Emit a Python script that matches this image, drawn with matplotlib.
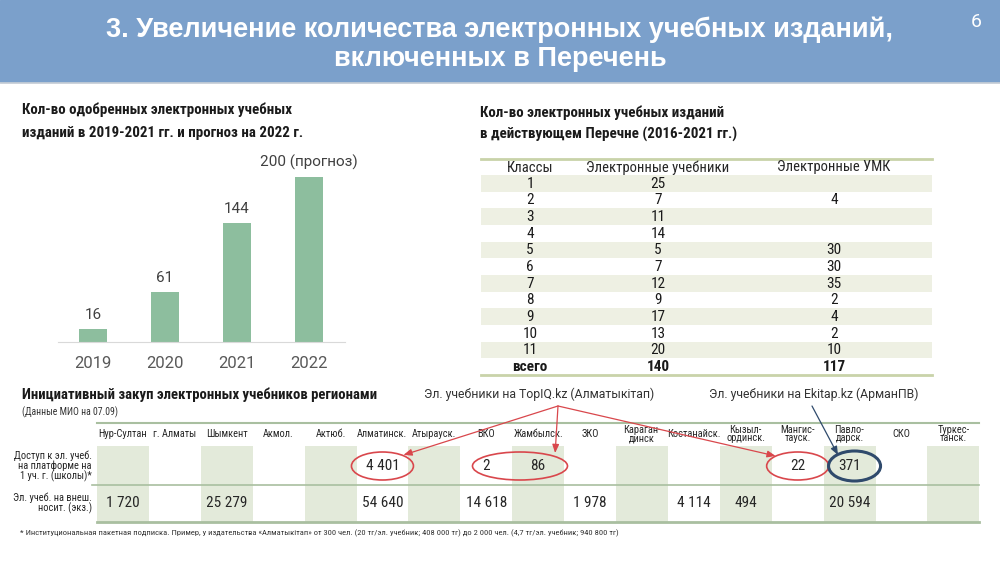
import matplotlib
matplotlib.use('Agg')
import matplotlib.pyplot as plt
from matplotlib.patches import Rectangle, Ellipse

# ---------------- data ----------------
years = ['2019', '2020', '2021', '2022']
approved = [16, 61, 144, 200]
approved_labels = ['16', '61', '144', '200 (прогноз)']

grades = ['1', '2', '3', '4', '5', '6', '7', '8', '9', '10', '11']
e_textbooks = [25, 7, 11, 14, 5, 7, 12, 9, 17, 13, 20]
e_umk = [None, 4, None, None, 30, 30, 35, 2, 4, 2, 10]
total_label = 'всего'
total_textbooks = 140
total_umk = 117
table_header = ['Классы', 'Электронные учебники', 'Электронные УМК']

regions = ['Нур-Султан', 'г. Алматы', 'Шымкент', 'Акмол.', 'Актюб.', 'Алматинск.',
           'Атырауск.', 'ВКО', 'Жамбылск.', 'ЗКО', 'Караган-\nдинск', 'Костанайск.',
           'Кызыл-\nординск.', 'Мангис-\nтауск.', 'Павло-\nдарск.', 'СКО', 'Туркес-\nтанск.']
platform_access = [None, None, None, None, None, 4401, None, 2, 86, None, None, None,
                   None, 22, 371, None, None]
external_media = [1720, None, 25279, None, None, 54640, None, 14618, None, 1978, None,
                  4114, 494, None, 20594, None, None]
row_labels = ['Доступ к эл. учеб.\nна платформе на\n1 уч. г. (школы)*',
              'Эл. учеб. на внеш.\nносит. (экз.)']

NARROW = ['Liberation Sans Narrow', 'Roboto Condensed', 'DejaVu Sans']
REG = ['Roboto', 'DejaVu Sans']

def fmt(v):
    return f"{v:,}".replace(',', ' ')

fig = plt.figure(figsize=(10, 5.62), dpi=100)
fig.patch.set_facecolor('white')
ax0 = fig.add_axes([0, 0, 1, 1])
ax0.set_xlim(0, 1000)
ax0.set_ylim(562, 0)
ax0.axis('off')

# ---------------- header ----------------
ax0.add_patch(Rectangle((0, 0), 1000, 82, color='#7BA0CB', zorder=0))
ax0.plot([0, 1000], [82.5, 82.5], color='#C9CFD6', lw=1.2)
ax0.text(500, 30, '3. Увеличение количества электронных учебных изданий,', ha='center',
         va='center', color='white', fontsize=19.5, fontweight='bold',
         family=['Liberation Sans', 'DejaVu Sans'])
ax0.text(500, 59, 'включенных в Перечень', ha='center', va='center', color='white',
         fontsize=19.5, fontweight='bold', family=['Liberation Sans', 'DejaVu Sans'])
ax0.text(976, 22, '6', ha='center', va='center', color='white', fontsize=14, family=REG)

# ---------------- bar chart ----------------
TF = 10.8
ax0.text(22, 110, 'Кол-во одобренных электронных учебных', ha='left', va='center',
         fontsize=TF, fontweight='bold', family=NARROW, color='#1a1a1a')
ax0.text(22, 133, 'изданий в 2019-2021 гг. и прогноз на 2022 г.', ha='left', va='center',
         fontsize=TF, fontweight='bold', family=NARROW, color='#1a1a1a')

axb = fig.add_axes([58 / 1000, 1 - 342 / 562, 287 / 1000, 165 / 562])
xs = list(range(len(years)))
axb.bar(xs, approved, width=0.39, color='#8DBE9E')
axb.set_ylim(0, 200)
axb.set_xlim(-0.486, 3.5)
for s in ['top', 'left', 'right']:
    axb.spines[s].set_visible(False)
axb.spines['bottom'].set_color('#D9D9D9')
axb.set_yticks([])
axb.set_xticks(xs)
axb.set_xticklabels(years, fontsize=12, color='#595959', family=REG)
axb.tick_params(axis='x', length=0, pad=10)
axb.patch.set_alpha(0)
for x, v, lab in zip(xs, approved, approved_labels):
    axb.annotate(lab, (x, v), xytext=(0, 5), textcoords='offset points', ha='center',
                 va='bottom', fontsize=11, color='#404040', family=REG, annotation_clip=False)

# ---------------- right table ----------------
ax0.text(480, 113, 'Кол-во электронных учебных изданий', ha='left', va='center',
         fontsize=TF, fontweight='bold', family=NARROW, color='#1a1a1a')
ax0.text(480, 134, 'в действующем Перечне (2016-2021 гг.)', ha='left', va='center',
         fontsize=TF, fontweight='bold', family=NARROW, color='#1a1a1a')

t_left, t_right = 481, 932
t_top = 159
head_h = 16
row_h = 200 / 12
col_cx = [530, 658, 834]
rows = [(g, str(a), '' if b is None else str(b)) for g, a, b in zip(grades, e_textbooks, e_umk)]
rows.append((total_label, str(total_textbooks), str(total_umk)))

for j, h in enumerate(table_header):
    ax0.text(col_cx[j], t_top + head_h / 2 + 0.5, h, ha='center', va='center',
             fontsize=10.5, family=NARROW, color='#262626')
for i, r in enumerate(rows):
    y0 = t_top + head_h + i * row_h
    if i % 2 == 0 and i < len(rows) - 1:
        ax0.add_patch(Rectangle((t_left, y0), t_right - t_left, row_h, color='#EEF0E3',
                                zorder=0.5, lw=0))
    bold = (i == len(rows) - 1)
    for j, cell in enumerate(r):
        ax0.text(col_cx[j], y0 + row_h / 2 + 0.5, cell, ha='center', va='center',
                 fontsize=11, family=NARROW, color='#1a1a1a',
                 fontweight='bold' if bold else 'normal')
t_bottom = t_top + head_h + len(rows) * row_h
ax0.plot([t_left, t_right], [t_top, t_top], color='#C9D3A9', lw=2)
ax0.plot([t_left, t_right], [t_bottom, t_bottom], color='#C9D3A9', lw=2)

# ---------------- bottom table ----------------
ax0.text(22, 395, 'Инициативный закуп электронных учебников регионами', ha='left',
         va='center', fontsize=10.6, fontweight='bold', family=NARROW, color='#1a1a1a')
ax0.text(22, 412, '(Данные МИО на 07.09)', ha='left', va='center', fontsize=7,
         family=NARROW, color='#333333')

b_left = 97
col_w = 51.9
b_top = 423
b_head = 446
b_mid = 485
b_bot = 522
n = len(regions)
b_right = b_left + n * col_w
for k, reg in enumerate(regions):
    cx = b_left + (k + 0.5) * col_w
    if k % 2 == 0:
        ax0.add_patch(Rectangle((b_left + k * col_w, b_head), col_w, b_bot - b_head,
                                color='#E3EADA', lw=0, zorder=0.5))
    ax0.text(cx, 434, reg, ha='center', va='center', fontsize=7.5, family=NARROW,
             color='#262626', linespacing=0.8)
    if platform_access[k] is not None:
        ax0.text(cx, 466, fmt(platform_access[k]), ha='center', va='center', fontsize=11,
                 family=NARROW, color='#262626')
    if external_media[k] is not None:
        ax0.text(cx, 503, fmt(external_media[k]), ha='center', va='center', fontsize=11,
                 family=NARROW, color='#262626')
ax0.plot([b_left, b_right], [b_top, b_top], color='#A9BFA0', lw=1.5)
ax0.plot([b_left - 5, b_right], [b_mid, b_mid], color='#A9BFA0', lw=1.2)
ax0.plot([b_left, b_right], [b_bot, b_bot], color='#A9BFA0', lw=2)
ax0.text(92, 466, row_labels[0], ha='right', va='center', fontsize=7.5, family=NARROW,
         color='#262626', linespacing=0.95)
ax0.text(92, 503, row_labels[1], ha='right', va='center', fontsize=7.5, family=NARROW,
         color='#262626', linespacing=0.95)

def ccx(k):
    return b_left + (k + 0.5) * col_w

red = '#D9474C'
navy = '#2F4A6C'
ax0.add_patch(Ellipse((ccx(5), 466), 62, 28, fill=False, ec=red, lw=1.2, zorder=3))
ax0.add_patch(Ellipse((ccx(7) + 0.65 * col_w, 466), 95, 28, fill=False, ec=red, lw=1.2, zorder=3))
ax0.add_patch(Ellipse((ccx(13), 466), 62, 28, fill=False, ec=red, lw=1.2, zorder=3))
ax0.add_patch(Ellipse((ccx(14) + 5, 466), 52, 30, fill=False, ec=navy, lw=2.2, zorder=3))

ax0.text(539, 394, 'Эл. учебники на TopIQ.kz (Алматыкітап)', ha='center', va='center',
         fontsize=8.8, family=REG, color='#333333')
ax0.text(814, 394, 'Эл. учебники на Ekitap.kz (АрманПВ)', ha='center', va='center',
         fontsize=8.8, family=REG, color='#333333')
src = (558, 406)
for tgt in [(ccx(5) + 21, 455), (ccx(8) + 17, 453), (ccx(13) - 22, 456)]:
    ax0.annotate('', xy=tgt, xytext=src,
                 arrowprops=dict(arrowstyle='-|>,head_length=0.5,head_width=0.2',
                                 color=red, lw=0.9, shrinkA=0, shrinkB=0))
ax0.annotate('', xy=(838, 455), xytext=(812, 406),
             arrowprops=dict(arrowstyle='-|>,head_length=0.5,head_width=0.2',
                             color=navy, lw=0.9, shrinkA=0, shrinkB=0))

ax0.text(20, 533, '* Институциональная пакетная подписка. Пример, у издательства «Алматыкітап» '
         'от 300 чел. (20 тг/эл. учебник; 408 000 тг) до 2 000 чел. (4,7 тг/эл. учебник; 940 800 тг)',
         ha='left', va='center', fontsize=6.1, family=NARROW, color='#333333')

fig.savefig('out.png', dpi=100, facecolor='white')
